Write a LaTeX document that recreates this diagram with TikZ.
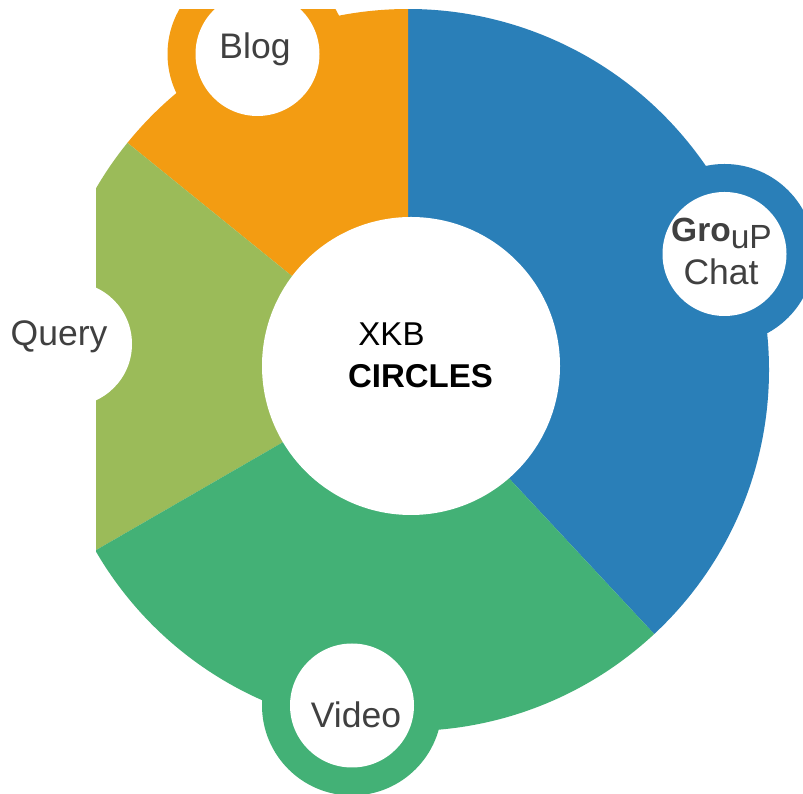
\documentclass[tikz,border=0pt]{standalone}
\usepackage{fontspec}
\setmainfont{Liberation Sans}
\definecolor{cblue}{HTML}{2A7FB8}
\definecolor{corange}{HTML}{F39C12}
\definecolor{clgreen}{HTML}{9BBB59}
\definecolor{cgreen}{HTML}{43B176}
\definecolor{ctext}{HTML}{404040}
\begin{document}
\begin{tikzpicture}[x=1pt,y=1pt,
  lbl/.style={text=ctext, font=\fontsize{35.5}{40}\selectfont, anchor=base, inner sep=0pt},
  glbl/.style={text=ctext, font=\fontsize{33.5}{40}\selectfont, anchor=base, inner sep=0pt},
  ctr/.style={text=black, font=\fontsize{33}{40}\selectfont, anchor=base, inner sep=0pt},
  hole/.style={circle, fill=white, minimum size=124pt, inner sep=0pt}]
\useasboundingbox (0,0) rectangle (803,794);
\fill[white] (0,0) rectangle (803,794);
\coordinate (c) at (408,424);
\begin{scope}
  \clip (96,0) rectangle (803,784);
  \fill[cblue] (c) -- ++(-47:361) arc[start angle=-47,end angle=90,radius=361] -- cycle;
  \fill[corange] (c) -- ++(90:361) arc[start angle=90,end angle=141,radius=361] -- cycle;
  \fill[clgreen] (c) -- ++(141:361) arc[start angle=141,end angle=210,radius=361] -- cycle;
  \fill[cgreen] (c) -- ++(210:361) arc[start angle=210,end angle=313,radius=361] -- cycle;
  \fill[corange] (257.5,740) circle[radius=90];
  \fill[cblue] (724.5,540) circle[radius=90];
  \fill[clgreen] (70,450) circle[radius=90];
  \fill[cgreen] (352,88.5) circle[radius=90];
\end{scope}
\node[circle, fill=white, minimum size=298pt, inner sep=0pt] (hub) at (411,428) {};
\node[hole] (blog) at (257.5,740) {};
\node[hole] (group) at (724.5,540) {};
\node[hole] (query) at (70,450) {};
\node[hole] (video) at (352,88.5) {};
\node[lbl] (tblog) at (255,735) {Blog};
\node[lbl] (tquery) at (59,448) {Query};
\node[lbl] (tvideo) at (356,66) {Video};
\node[glbl] (tgroup) at (721.5,552) {\textbf{Gro}\raisebox{-7pt}{uP}};
\node[lbl] (tchat) at (721,509) {Chat};
\node[ctr] (txkb) at (391.5,448) {XKB};
\node[ctr] (tcircles) at (420.5,406) {\textbf{CIRCLES}};
\end{tikzpicture}
\end{document}
